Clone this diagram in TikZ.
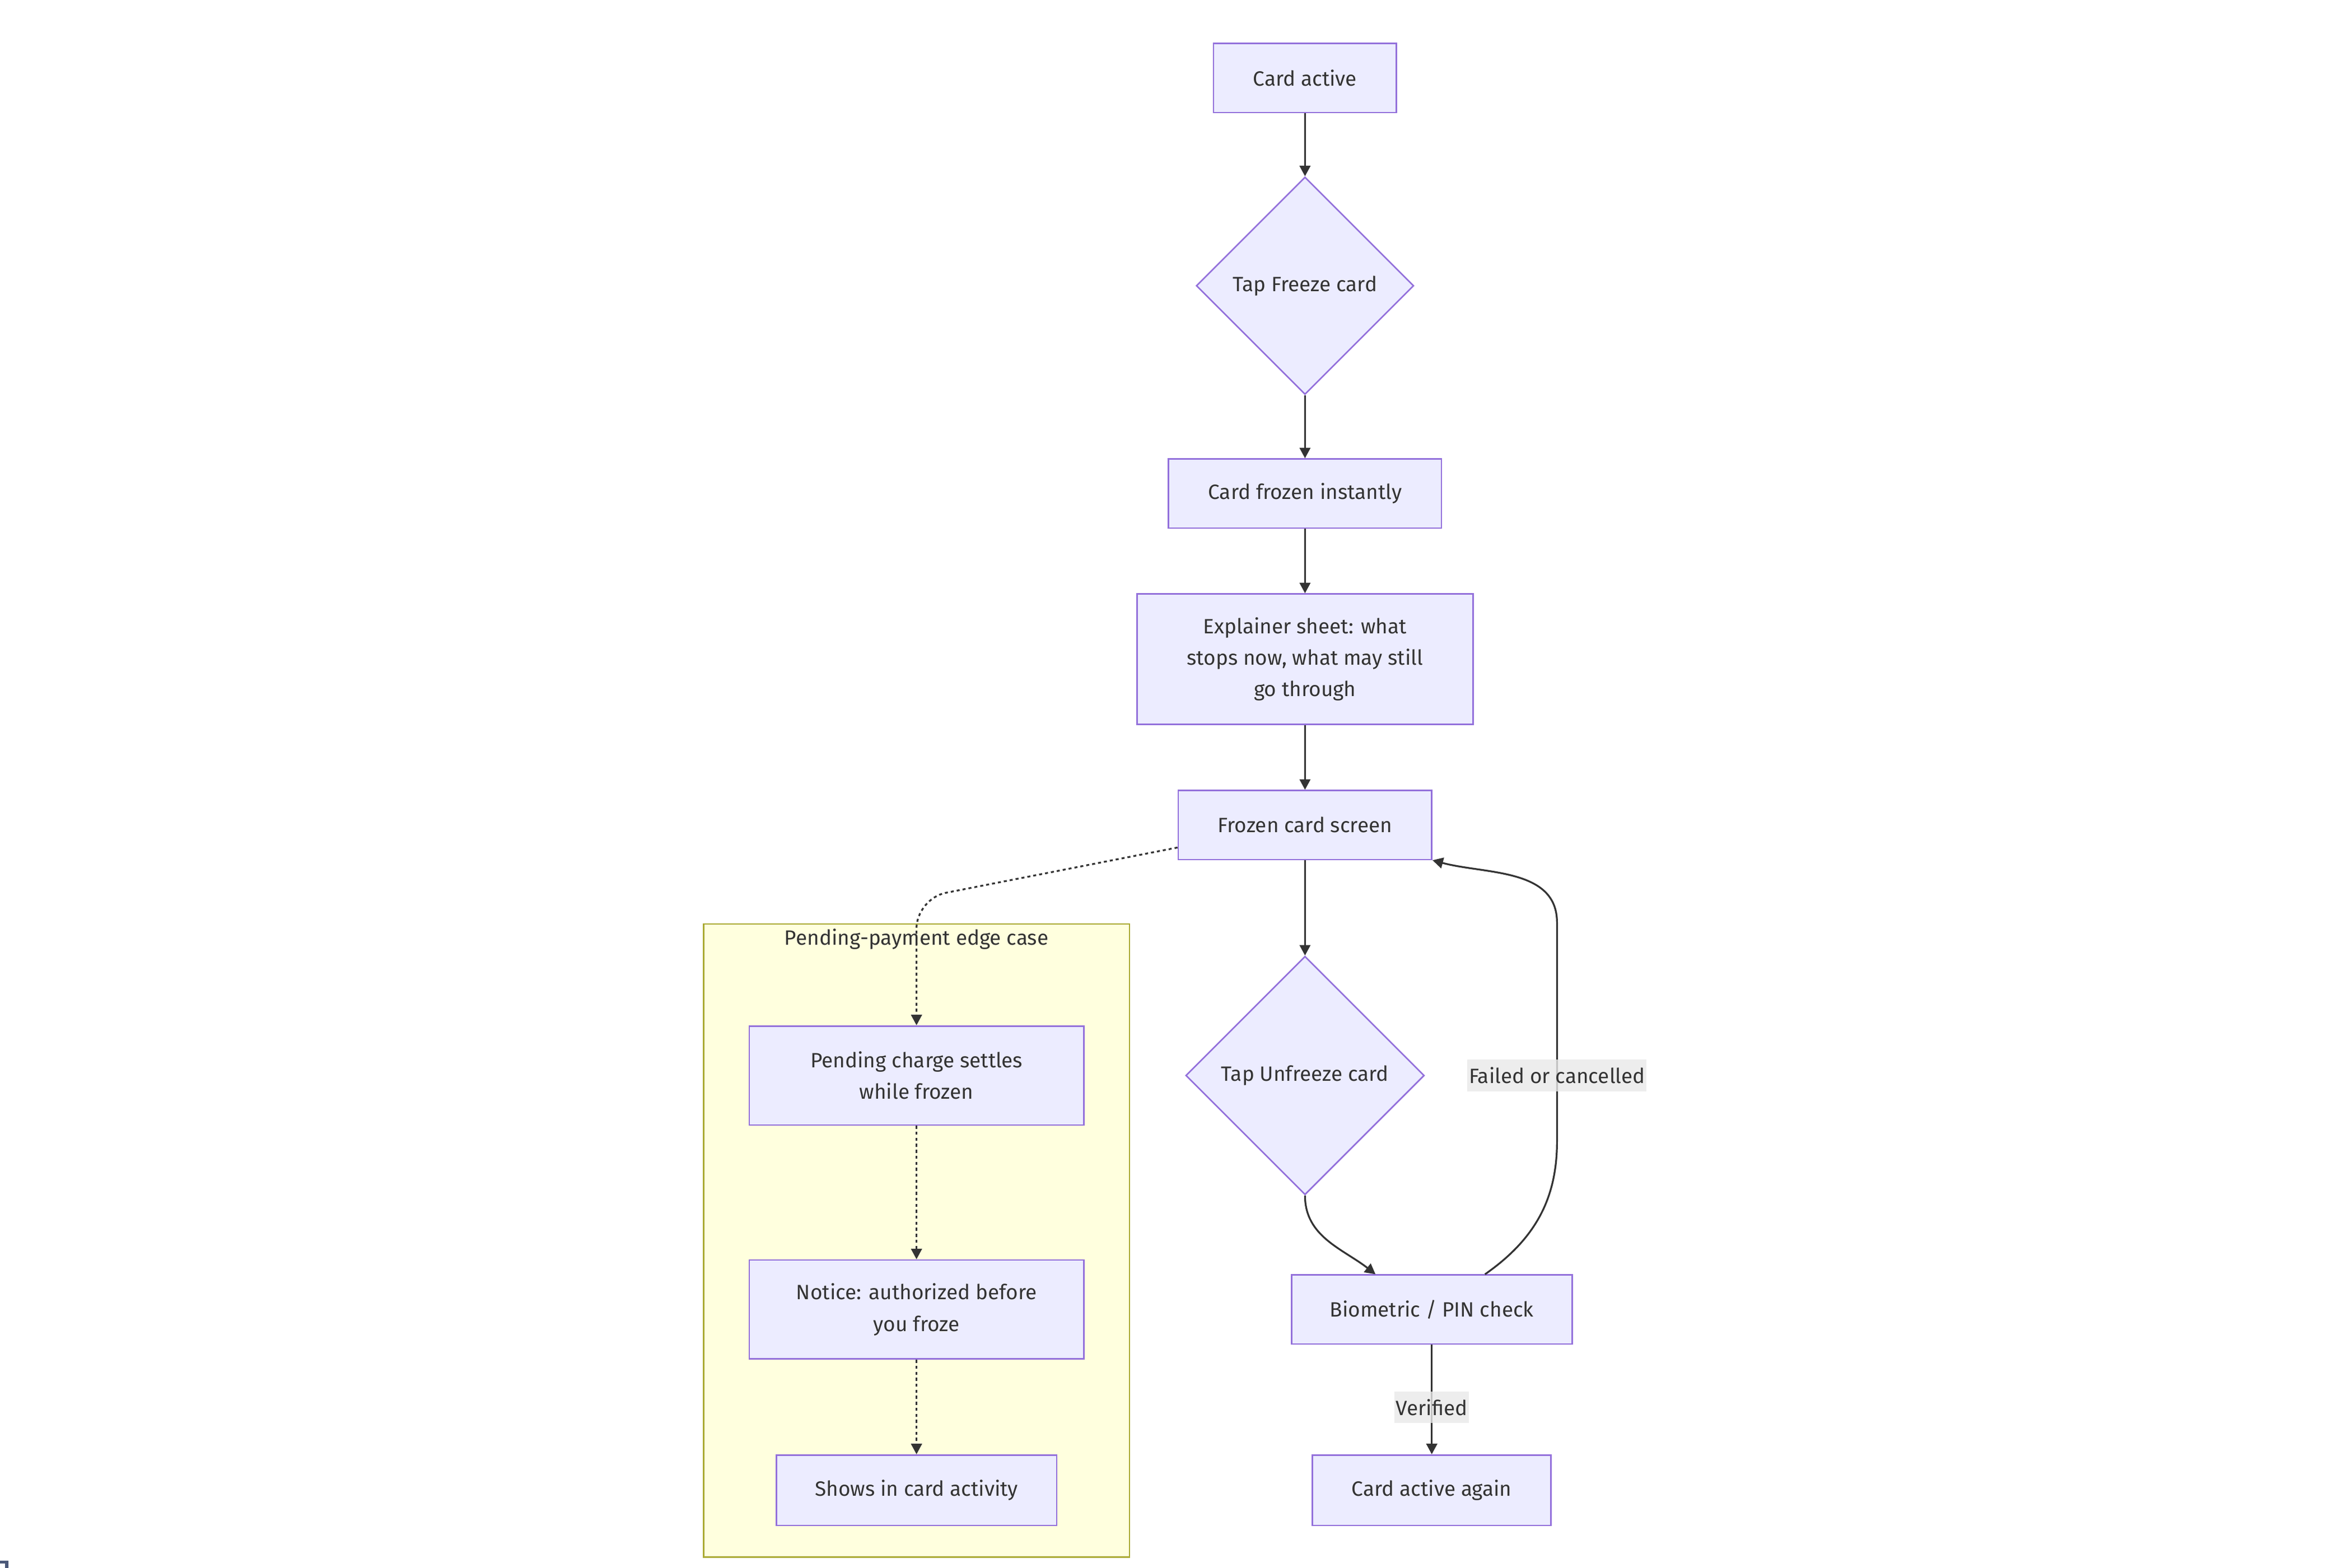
\documentclass[tikz,border=0pt]{standalone}
\usepackage{fontspec}
\setmainfont{Fira Sans}
\usetikzlibrary{shapes.geometric,arrows.meta}
\definecolor{nodefill}{HTML}{ECECFF}
\definecolor{nodeline}{HTML}{9370DB}
\definecolor{inkgrey}{HTML}{333333}
\definecolor{clusterfill}{HTML}{FFFFDE}
\definecolor{clusterline}{HTML}{AAAA33}
\definecolor{labelfill}{HTML}{E8E8E8}
\definecolor{cornermark}{HTML}{4A5878}

\begin{document}
\begin{tikzpicture}[x=0.5pt,y=-0.5pt,
        font=\fontsize{6.9}{10.5}\selectfont, text=inkgrey,
        box/.style={draw=nodeline, fill=nodefill, line width=0.5pt, inner sep=0pt, align=center},
        choice/.style={diamond, draw=nodeline, fill=nodefill, line width=0.5pt, inner sep=0pt, aspect=1, align=center},
        cluster/.style={draw=clusterline, fill=clusterfill, line width=0.5pt, inner sep=0pt},
        edge/.style={draw=inkgrey, line width=0.6pt, -{Triangle[length=3.5pt,width=3.6pt]}},
        dotline/.style={edge, dash pattern=on 1pt off 1pt},
        edgelabel/.style={fill=labelfill, fill opacity=0.8, text opacity=1, inner xsep=0.5pt, inner ysep=0pt, minimum height=10.5pt}]
        \useasboundingbox (0,0) rectangle (1568,1045);
        \node[box, minimum width=61pt, minimum height=23pt] (ca) at (870,52) {Card active};
        \node[choice, minimum width=72.5pt, minimum height=72.5pt] (tfc) at (870,190.5) {Tap Freeze card};
        \node[box, minimum width=91pt, minimum height=23pt] (cfi) at (870,329) {Card frozen instantly};
        \node[box, minimum width=112pt, minimum height=43.5pt] (exp) at (870,439.5) {Explainer sheet: what\\stops now, what may still\\go through};
        \node[box, minimum width=84.5pt, minimum height=23pt] (fcs) at (870,550) {Frozen card screen};
        \node[cluster, minimum width=142pt, minimum height=211pt] (pend) at (611,827) {};
        \node (pendtitle) at (611,626) {Pending-payment edge case};
        \node[box, minimum width=111.5pt, minimum height=33pt] (pcs) at (611,717) {Pending charge settles\\while frozen};
        \node[box, minimum width=111.5pt, minimum height=33pt] (ntc) at (611,873) {Notice: authorized before\\you froze};
        \node[box, minimum width=93.5pt, minimum height=23.5pt] (sca) at (611,993.5) {Shows in card activity};
        \node[choice, minimum width=79.5pt, minimum height=79.5pt] (tuc) at (870,717) {Tap Unfreeze card};
        \node[box, minimum width=93.5pt, minimum height=23pt] (bio) at (954.5,873) {Biometric / PIN check};
        \node[box, minimum width=79.5pt, minimum height=23.5pt] (caa) at (954.5,993.5) {Card active again};
        \draw[edge] (ca) -- (tfc);
        \draw[edge] (tfc) -- (cfi);
        \draw[edge] (cfi) -- (exp);
        \draw[edge] (exp) -- (fcs);
        \draw[edge] (fcs) -- (tuc);
        \draw[dotline, rounded corners=10pt] ([yshift=-7.5pt]fcs.west) -- (pcs.north |- 0,599) -- (pcs.north);
        \draw[dotline] (pcs) -- (ntc);
        \draw[dotline] (ntc) -- (sca);
        \draw[edge] (tuc.south) to[out=-90,in=142] ([xshift=-18.75pt]bio.north);
        \draw[edge] ([xshift=17.75pt]bio.north) to[out=35,in=-90] (1038,761) -- (1038,615) to[out=90,in=-15] (fcs.south east);
        \node[edgelabel] (fail) at (1038,717) {Failed or cancelled};
        \draw[edge] (bio) -- node[edgelabel, pos=0.57] (verif) {Verified} (caa);
        \draw[cornermark, line width=1pt] (0,1041.5) -- (4.5,1041.5) -- (4.5,1046);
    \end{tikzpicture}
\end{document}
